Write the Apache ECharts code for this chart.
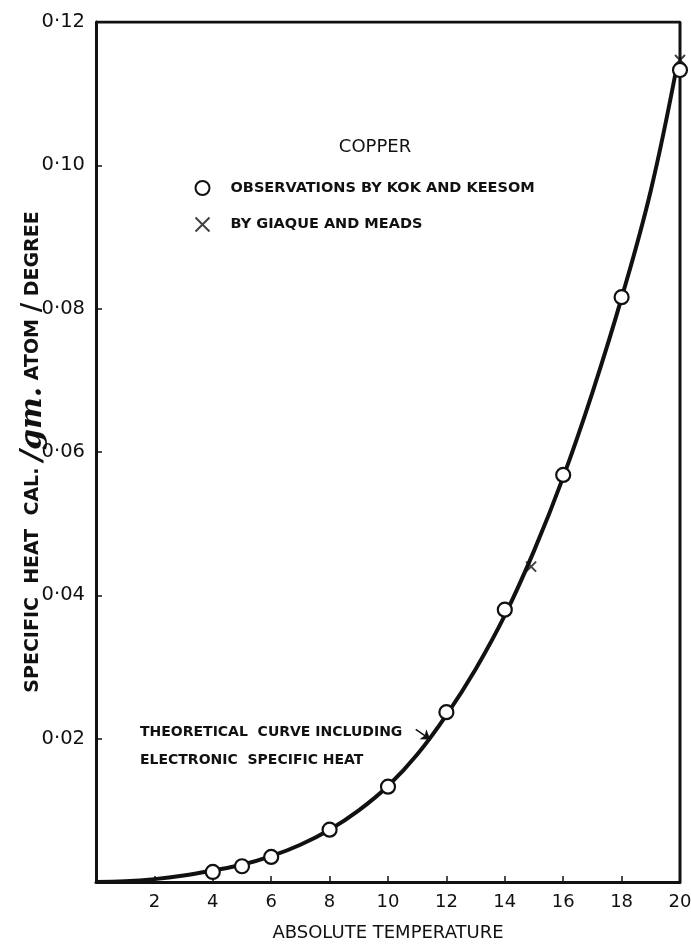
<!DOCTYPE html>
<html>
<head>
<meta charset="utf-8">
<script src="https://cdn.jsdelivr.net/npm/echarts@6/dist/echarts.min.js"></script>
<style>
  html, body { margin: 0; padding: 0; background: #fff; }
  #chart { width: 691px; height: 944px; }
</style>
</head>
<body>
<div id="chart"></div>
<script>
// Specific heat of copper at low temperature (cal / gm. atom / degree)
const curveT = [0, 1, 2, 3, 4, 5, 6, 7, 8, 9, 10, 11, 12, 13, 14, 15, 16, 17, 18, 19, 19.9];
const curveC = [0, 0.0001, 0.0004, 0.0009, 0.0016, 0.0024, 0.0036, 0.0052, 0.0073, 0.0100,
                0.0134, 0.0178, 0.0233, 0.0297, 0.0372, 0.0462, 0.0565, 0.0683, 0.0815, 0.0965, 0.1140];

const kokT = [4, 5, 6, 8, 10, 12, 14, 16, 18, 20];
const kokC = [0.0014, 0.0022, 0.0035, 0.0073, 0.0133, 0.0237, 0.0380, 0.0568, 0.0816, 0.1133];

const giaqueT = [14.9, 20];
const giaqueC = [0.0440, 0.1147];

const xTicks = [2, 4, 6, 8, 10, 12, 14, 16, 18, 20];
const yTicks = [0.02, 0.04, 0.06, 0.08, 0.10, 0.12];

const zip = (a, b) => a.map((v, i) => [v, b[i]]);

const INK = '#111';
const FONT = '"DejaVu Sans", sans-serif';
const crossPath = 'path://M0,0L10,10M10,0L0,10';

const chart = echarts.init(document.getElementById('chart'), null, { renderer: 'canvas' });

chart.setOption({
  backgroundColor: '#fff',
  animation: false,
  title: {
    text: 'COPPER',
    left: 370, top: 133, textAlign: 'center',
    textStyle: { fontFamily: FONT, fontSize: 18, fontWeight: 'normal', color: INK }
  },
  legend: {
    orient: 'vertical',
    left: 193, top: 180,
    padding: 0,
    itemGap: 19,
    itemWidth: 14, itemHeight: 14,
    data: [
      { name: 'OBSERVATIONS BY KOK AND KEESOM', icon: 'circle' },
      { name: 'BY GIAQUE AND MEADS', icon: crossPath }
    ],
    textStyle: { fontFamily: FONT, fontSize: 14.5, fontWeight: 'bold', color: INK, padding: [0, 0, 0, 16] }
  },
  grid: { left: 96, right: 11, top: 22, bottom: 62, show: false, containLabel: false, outerBoundsMode: 'none' },
  xAxis: {
    type: 'value',
    min: 0, max: 20, interval: 2,
    name: 'ABSOLUTE TEMPERATURE',
    nameLocation: 'middle',
    nameGap: 42,
    nameMoveOverlap: false,
    nameTextStyle: { fontFamily: FONT, fontSize: 18, color: INK },
    axisLine: { show: true, lineStyle: { color: INK, width: 3 } },
    axisTick: { show: true, inside: true, length: 6, lineStyle: { color: INK, width: 1.5 } },
    axisLabel: {
      fontFamily: FONT, fontSize: 18, color: INK, margin: 11,
      formatter: v => (xTicks.indexOf(v) >= 0 ? String(v) : '')
    },
    splitLine: { show: false }
  },
  yAxis: {
    type: 'value',
    min: 0, max: 0.12, interval: 0.02,
    name: 'SPECIFIC  HEAT  CAL. {g|/gm.} ATOM {s|/} DEGREE',
    nameLocation: 'middle',
    nameRotate: 90,
    nameGap: 48,
    nameMoveOverlap: false,
    nameTextStyle: {
      fontFamily: FONT, fontSize: 19, fontWeight: 'bold', color: INK,
      rich: {
        g: { fontFamily: '"DejaVu Serif", serif', fontStyle: 'italic', fontSize: 30, color: INK },
        s: { fontFamily: FONT, fontSize: 26, color: INK }
      }
    },
    axisLine: { show: true, lineStyle: { color: INK, width: 3 } },
    axisTick: { show: true, inside: true, length: 6, lineStyle: { color: INK, width: 1.5 } },
    axisLabel: {
      fontFamily: FONT, fontSize: 19.5, color: INK, margin: 11,
      formatter: v => {
        const r = Math.round(v * 100) / 100;
        return yTicks.some(t => Math.abs(t - r) < 1e-9) ? r.toFixed(2).replace('.', '·') : '';
      }
    },
    splitLine: { show: false }
  },
  series: [
    {
      name: 'THEORETICAL CURVE',
      type: 'line',
      data: zip(curveT, curveC),
      smooth: 0.4,
      showSymbol: false,
      symbol: 'none',
      lineStyle: { color: INK, width: 4 },
      z: 3,
      markLine: {
        silent: true,
        symbol: ['none', 'arrow'],
        symbolSize: 9,
        lineStyle: { color: INK, width: 1.5, type: 'solid' },
        label: { show: false },
        data: [[{ coord: [10.95, 0.0213] }, { coord: [11.45, 0.0199] }]]
      }
    },
    {
      name: 'OBSERVATIONS BY KOK AND KEESOM',
      type: 'scatter',
      data: zip(kokT, kokC),
      symbol: 'circle',
      symbolSize: 14,
      itemStyle: { color: '#fff', borderColor: INK, borderWidth: 2.2, opacity: 1 },
      z: 4
    },
    {
      name: 'BY GIAQUE AND MEADS',
      type: 'scatter',
      data: zip(giaqueT, giaqueC),
      symbol: crossPath,
      symbolSize: 10,
      itemStyle: { color: 'none', borderColor: INK, borderWidth: 2 },
      z: 5
    },
    {
      // frame: top and right borders of the plotting box
      name: 'frame',
      type: 'line',
      data: [[0, 0.12], [20, 0.12], [20, 0]],
      showSymbol: false,
      symbol: 'none',
      lineStyle: { color: INK, width: 3 },
      silent: true,
      z: 2
    }
  ],
  graphic: [
    {
      type: 'text',
      left: 140, top: 718,
      style: {
        text: 'THEORETICAL  CURVE INCLUDING\nELECTRONIC  SPECIFIC HEAT',
        font: 'bold 14px "DejaVu Sans", sans-serif',
        fill: INK,
        lineHeight: 28
      }
    }
  ]
});
</script>
</body>
</html>
